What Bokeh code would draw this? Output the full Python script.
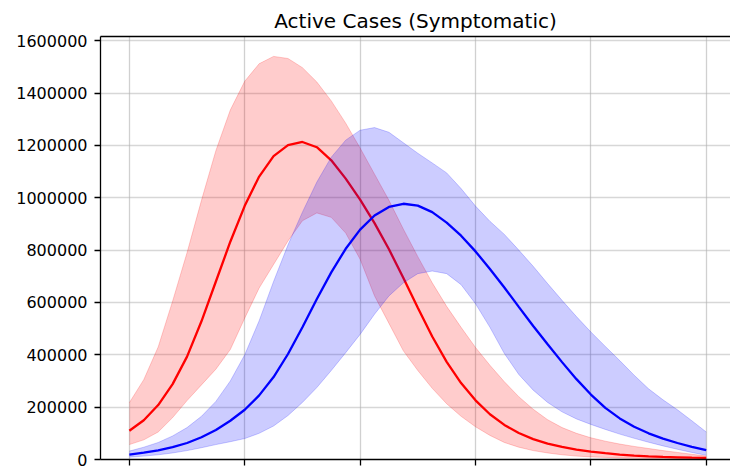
from bokeh.plotting import figure
from bokeh.models import Range1d, FixedTicker, LinearAxis, BasicTickFormatter, CustomJSTickFormatter
from bokeh.embed import file_html
from bokeh.resources import INLINE

# ---- data ----
days = [0, 2.5, 5, 7.5, 10, 12.5, 15, 17.5, 20, 22.5, 25, 27.5, 30, 32.5, 35, 37.5,
        40, 42.5, 45, 47.5, 50, 52.5, 55, 57.5, 60, 62.5, 65, 67.5, 70, 72.5, 75,
        77.5, 80, 82.5, 85, 87.5, 90, 92.5, 95, 97.5, 100]

red_mid = [110000, 150000, 208000, 288000, 393000, 528000, 680000, 832000, 969000,
           1081000, 1159000, 1201000, 1213000, 1193000, 1143000, 1073000, 993000,
           903000, 803000, 693000, 580000, 470000, 373000, 292000, 226000, 173000,
           132000, 101000, 78000, 61000, 48000, 38000, 30000, 24000, 19000, 15000,
           12000, 10000, 8500, 7000, 6000]
red_hi = [217000, 305000, 430000, 605000, 790000, 990000, 1180000, 1335000, 1445000,
          1512000, 1540000, 1532000, 1497000, 1442000, 1370000, 1285000, 1190000,
          1090000, 990000, 880000, 775000, 675000, 585000, 505000, 428000, 360000,
          297000, 240000, 192000, 152000, 122000, 100000, 83000, 70000, 59000, 50000,
          42000, 34000, 27000, 20000, 13000]
red_lo = [57000, 75000, 105000, 160000, 225000, 285000, 345000, 420000, 540000,
          655000, 745000, 835000, 912000, 942000, 925000, 865000, 765000, 625000,
          520000, 415000, 340000, 272000, 213000, 165000, 125000, 92000, 65000,
          47000, 34000, 25000, 18000, 13000, 10000, 8000, 6000, 5000, 4000, 3500,
          3000, 2500, 2000]

blue_mid = [19000, 26000, 35000, 47000, 63000, 85000, 113000, 148000, 190000, 245000,
            315000, 403000, 505000, 613000, 715000, 805000, 878000, 932000, 965000,
            977000, 970000, 945000, 905000, 855000, 795000, 728000, 657000, 583000,
            510000, 440000, 372000, 307000, 248000, 197000, 157000, 125000, 100000,
            80000, 63000, 48000, 36000]
blue_hi = [32000, 47000, 65000, 90000, 122000, 165000, 222000, 300000, 400000, 530000,
           680000, 820000, 945000, 1060000, 1155000, 1220000, 1258000, 1268000,
           1250000, 1210000, 1170000, 1133000, 1095000, 1035000, 968000, 910000,
           860000, 800000, 738000, 672000, 608000, 546000, 487000, 432000, 378000,
           322000, 270000, 228000, 190000, 148000, 105000]
blue_lo = [9000, 13000, 18000, 25000, 34000, 45000, 57000, 68000, 80000, 100000,
           128000, 168000, 218000, 275000, 340000, 408000, 478000, 555000, 625000,
           675000, 710000, 720000, 710000, 668000, 595000, 505000, 405000, 325000,
           265000, 218000, 182000, 155000, 134000, 115000, 97000, 81000, 66000,
           52000, 39000, 27000, 16000]

x_ticks = [0, 20, 40, 60, 80, 100]
y_ticks = [0, 200000, 400000, 600000, 800000, 1000000, 1200000, 1400000, 1600000]
title_text = "Active Cases (Symptomatic)"

FONT = "DejaVu Sans"

p = figure(width=730, height=469, output_backend="svg", toolbar_location=None,
           x_range=Range1d(-5, 104.2), y_range=Range1d(0, 1616000),
           min_border_left=100, min_border_right=0, min_border_top=36,
           min_border_bottom=10)
p.outline_line_color = None
p.background_fill_color = "white"
p.border_fill_color = "white"

p.title.text = title_text
p.title.text_font = FONT
p.title.text_font_size = "20px"
p.title.text_font_style = "normal"
p.title.text_color = "black"
p.title.align = "center"
p.title.standoff = 8
p.title.offset = 0

blank = CustomJSTickFormatter(code="return '';")

# x axis (ticks only, no labels as in the reference)
xa = p.xaxis[0]
xa.ticker = FixedTicker(ticks=x_ticks)
xa.formatter = blank
xa.major_label_standoff = 0
xa.major_tick_out = 6
xa.major_tick_in = 0
xa.minor_tick_line_color = None
xa.axis_line_color = "black"
xa.axis_line_width = 1.3
xa.major_tick_line_color = "black"
xa.major_tick_line_width = 1.3

# y axis
ya = p.yaxis[0]
ya.ticker = FixedTicker(ticks=y_ticks)
ya.formatter = BasicTickFormatter(use_scientific=False)
ya.major_label_text_font = FONT
ya.major_label_text_font_size = "16px"
ya.major_label_text_color = "black"
ya.major_label_standoff = 7
ya.major_tick_out = 6
ya.major_tick_in = 0
ya.minor_tick_line_color = None
ya.axis_line_color = "black"
ya.axis_line_width = 1.3
ya.major_tick_line_color = "black"
ya.major_tick_line_width = 1.3

# top spine
top = LinearAxis(ticker=FixedTicker(ticks=[]), formatter=blank,
                 major_tick_line_color=None, minor_tick_line_color=None,
                 axis_line_color="black", axis_line_width=1.3,
                 major_label_standoff=0)
p.add_layout(top, "above")

p.xgrid.ticker = FixedTicker(ticks=x_ticks)
p.ygrid.ticker = FixedTicker(ticks=y_ticks)
p.xgrid.grid_line_color = "#b0b0b0"
p.xgrid.grid_line_alpha = 0.6
p.xgrid.grid_line_width = 1.3
p.ygrid.grid_line_color = "#b0b0b0"
p.ygrid.grid_line_alpha = 0.5
p.ygrid.grid_line_width = 1.3

# red series
p.line(days, red_mid, line_color="red", line_width=2.3)
p.varea(x=days, y1=red_lo, y2=red_hi, fill_color="red", fill_alpha=0.2)
p.line(days, red_hi, line_color="red", line_alpha=0.2, line_width=1)
p.line(days, red_lo, line_color="red", line_alpha=0.2, line_width=1)

# blue series
p.line(days, blue_mid, line_color="blue", line_width=2.3)
p.varea(x=days, y1=blue_lo, y2=blue_hi, fill_color="blue", fill_alpha=0.2)
p.line(days, blue_hi, line_color="blue", line_alpha=0.2, line_width=1)
p.line(days, blue_lo, line_color="blue", line_alpha=0.2, line_width=1)

open("out.html", "w").write(file_html(p, INLINE))
